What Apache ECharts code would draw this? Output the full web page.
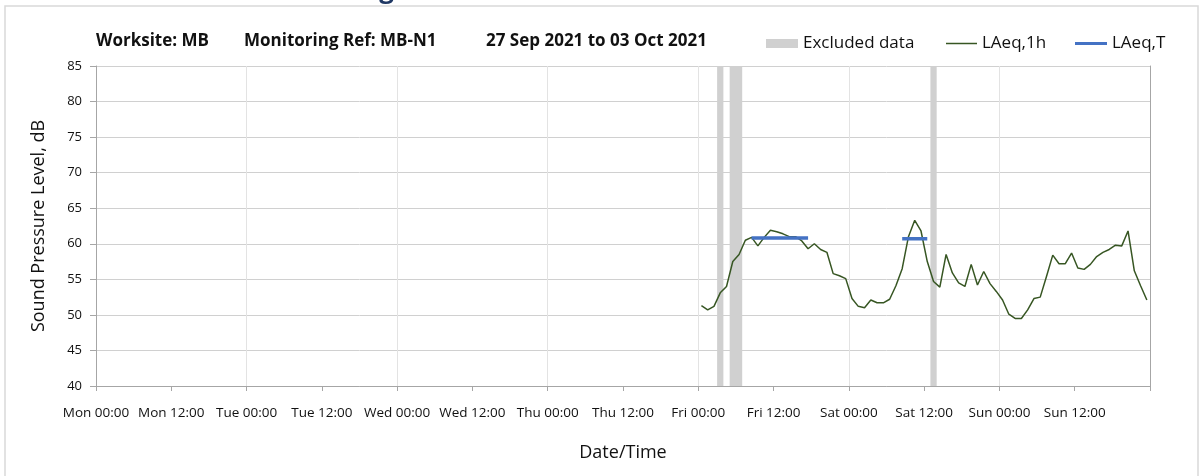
<!DOCTYPE html>
<html>
<head>
  <meta charset="utf-8">
  <title>Noise monitoring MB-N1</title>
  <script src="https://cdn.jsdelivr.net/npm/echarts@6/dist/echarts.min.js"></script>
  <style>
    html, body { margin: 0; padding: 0; background: #fff; }
    #chart { width: 1203px; height: 476px; }
  </style>
</head>
<body>
  <div id="chart"></div>
  <script>
    // hours counted from Mon 27 Sep 2021 00:00
    var dayNames = ['Mon', 'Tue', 'Wed', 'Thu', 'Fri', 'Sat', 'Sun'];
    var firstHour = 96.5; // first LAeq,1h point (Fri 00:30)

    // LAeq,1h hourly values, Fri 00:30 .. Sun 23:30
    var laeq1h = [
      51.3, 50.7, 51.2, 53.1, 54.0, 57.5, 58.5, 60.5, 60.9, 59.7, 60.9, 61.9,
      61.7, 61.4, 61.0, 61.0, 60.4, 59.3, 60.0, 59.2, 58.8, 55.8, 55.5, 55.1,
      52.3, 51.2, 51.0, 52.1, 51.7, 51.7, 52.2, 54.1, 56.5, 61.0, 63.3, 61.8,
      57.5, 54.7, 53.9, 58.5, 55.9, 54.5, 54.0, 57.1, 54.2, 56.1, 54.4, 53.3,
      52.1, 50.1, 49.5, 49.5, 50.7, 52.3, 52.5, 55.4, 58.4, 57.2, 57.2, 58.7,
      56.6, 56.4, 57.1, 58.2, 58.8, 59.2, 59.8, 59.7, 61.8, 56.2, 54.1, 52.1
    ];

    // LAeq,T periods (null breaks the line)
    var laeqTHours = [104.5, 113.5, 120, 128.5, 132.5];
    var laeqTValues = [60.8, 60.8, null, 60.7, 60.7];

    // excluded data periods
    var excludedFrom = [99, 101, 133];
    var excludedTo = [100, 103, 134];

    var yMin = 40, yMax = 85;
    var fontFamily = '"Open Sans", "Noto Sans", sans-serif';

    var laeq1hData = [];
    for (var i = 0; i < laeq1h.length; i++) {
      laeq1hData.push([firstHour + i, laeq1h[i]]);
    }
    var laeqTData = [];
    for (var j = 0; j < laeqTHours.length; j++) {
      laeqTData.push([laeqTHours[j], laeqTValues[j] === null ? '-' : laeqTValues[j]]);
    }
    var excludedData = [];
    for (var k = 0; k < excludedFrom.length; k++) {
      excludedData.push([excludedFrom[k], excludedTo[k]]);
    }

    function timeLabel(v) {
      if (v >= 168) return '';
      var d = dayNames[Math.floor(v / 24)];
      var h = v % 24;
      return d + ' ' + (h < 10 ? '0' + h : h) + ':00';
    }

    var chart = echarts.init(document.getElementById('chart'));

    var option = {
      animation: false,
      textStyle: { fontFamily: fontFamily },
      grid: { left: 96, right: 53, top: 66, bottom: 90 },
      graphic: [
        {
          type: 'rect', silent: true,
          shape: { x: 5, y: 6, width: 1193, height: 480 },
          style: { fill: 'none', stroke: '#d9d9d9', lineWidth: 1.5 }
        },
        {
          type: 'text', x: 394, y: 4,
          style: {
            text: 'Noise Monitoring', align: 'right', verticalAlign: 'bottom',
            font: 'bold 26px ' + fontFamily, fill: '#1f3864'
          }
        },
        {
          type: 'text', x: 96, y: 41,
          style: { text: 'Worksite: MB', verticalAlign: 'middle', font: 'bold 17px ' + fontFamily, fill: '#111' }
        },
        {
          type: 'text', x: 244, y: 41,
          style: { text: 'Monitoring Ref: MB-N1', verticalAlign: 'middle', font: 'bold 17px ' + fontFamily, fill: '#111' }
        },
        {
          type: 'text', x: 486, y: 41,
          style: { text: '27 Sep 2021 to 03 Oct 2021', verticalAlign: 'middle', font: 'bold 17px ' + fontFamily, fill: '#111' }
        }
      ],
      legend: [
        {
          data: ['Excluded data'], left: 761, top: 30, icon: 'rect',
          itemWidth: 32, itemHeight: 9, selectedMode: false,
          textStyle: { fontSize: 17, color: '#111' }
        },
        {
          data: ['LAeq,1h'], left: 941, top: 30, icon: 'rect',
          itemWidth: 31, itemHeight: 1.5, selectedMode: false,
          textStyle: { fontSize: 17, color: '#111' }
        },
        {
          data: ['LAeq,T'], left: 1070, top: 30, icon: 'rect',
          itemWidth: 32, itemHeight: 3, selectedMode: false,
          textStyle: { fontSize: 17, color: '#111' }
        }
      ],
      xAxis: [
        {
          type: 'value', min: 0, max: 168, interval: 12,
          name: 'Date/Time', nameLocation: 'middle', nameGap: 58,
          nameTextStyle: { fontSize: 18, color: '#111' },
          axisLine: { lineStyle: { color: '#a6a6a6' } },
          axisTick: { length: 5, lineStyle: { color: '#a6a6a6' } },
          axisLabel: { margin: 20, fontSize: 13.5, color: '#111', formatter: timeLabel, showMaxLabel: true },
          splitLine: { show: false }
        },
        {
          type: 'value', min: 0, max: 168, interval: 24, position: 'bottom',
          axisLine: { show: false }, axisTick: { show: false }, axisLabel: { show: false },
          splitLine: { show: true, lineStyle: { color: '#e3e3e3', width: 1 } }
        }
      ],
      yAxis: [
        {
          type: 'value', min: yMin, max: yMax, interval: 5,
          name: 'Sound Pressure Level, dB', nameLocation: 'middle', nameGap: 48,
          nameTextStyle: { fontSize: 18, color: '#111' },
          axisLine: { show: true, lineStyle: { color: '#a6a6a6' } },
          axisTick: { show: true, length: 6, lineStyle: { color: '#a6a6a6' } },
          axisLabel: { margin: 14, fontSize: 13, color: '#111' },
          splitLine: { lineStyle: { color: '#d0d0d0', width: 1 } }
        },
        {
          type: 'value', min: yMin, max: yMax, interval: 5, position: 'right',
          axisLine: { show: true, onZero: false, lineStyle: { color: '#a6a6a6' } },
          axisTick: { show: false }, axisLabel: { show: false }, splitLine: { show: false }
        }
      ],
      series: [
        {
          name: 'Excluded data', type: 'custom', xAxisIndex: 0, yAxisIndex: 0,
          itemStyle: { color: '#d0d0d0' },
          encode: { x: [0, 1] },
          data: excludedData,
          renderItem: function (params, api) {
            var p0 = api.coord([api.value(0), yMax]);
            var p1 = api.coord([api.value(1), yMin]);
            return {
              type: 'rect',
              shape: { x: p0[0], y: p0[1], width: p1[0] - p0[0], height: p1[1] - p0[1] },
              style: { fill: '#d0d0d0' }
            };
          },
          z: 2
        },
        {
          name: 'LAeq,1h', type: 'line', xAxisIndex: 0, yAxisIndex: 0,
          color: '#375623', showSymbol: false, symbol: 'none',
          lineStyle: { width: 1.5, color: '#375623' },
          data: laeq1hData, z: 3
        },
        {
          name: 'LAeq,T', type: 'line', xAxisIndex: 0, yAxisIndex: 0,
          color: '#4472c4', showSymbol: false, symbol: 'none',
          lineStyle: { width: 3.5, color: '#4472c4' },
          data: laeqTData, z: 4
        }
      ]
    };

    chart.setOption(option);
  </script>
</body>
</html>
